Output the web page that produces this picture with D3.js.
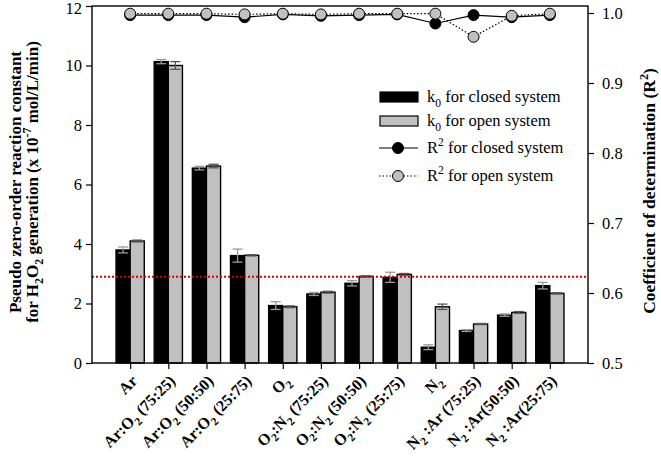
<!DOCTYPE html>
<html>
<head>
<meta charset="utf-8">
<script src="https://cdn.jsdelivr.net/npm/d3@7"></script>
<style>
  html, body { margin: 0; padding: 0; background: #fff; }
  svg { display: block; }
  text { font-family: "Liberation Serif", "Times New Roman", serif; fill: #000; }
</style>
</head>
<body>
<svg id="chart" width="661" height="458"></svg>
<script>
// categories use _x for subscript and ^x for superscript
const categories = [
  'Ar', 'Ar:O_2 (75:25)', 'Ar:O_2 (50:50)', 'Ar:O_2 (25:75)',
  'O_2', 'O_2:N_2 (75:25)', 'O_2:N_2 (50:50)', 'O_2:N_2 (25:75)',
  'N_2', 'N_2 :Ar (75:25)', 'N_2 :Ar(50:50)', 'N_2 :Ar(25:75)'
];
const k0Closed    = [3.80, 10.13, 6.55, 3.61, 1.93, 2.32, 2.68, 2.88, 0.53, 1.09, 1.61, 2.60];
const k0ClosedErr = [0.10, 0.07, 0.06, 0.22, 0.13, 0.05, 0.09, 0.17, 0.08, 0.03, 0.04, 0.11];
const k0Open      = [4.10, 10.00, 6.62, 3.62, 1.89, 2.38, 2.91, 2.98, 1.89, 1.31, 1.70, 2.34];
const k0OpenErr   = [0.03, 0.13, 0.06, 0.02, 0.03, 0.03, 0.02, 0.03, 0.09, 0.02, 0.03, 0.02];
const r2Closed    = [0.997, 0.997, 0.997, 0.994, 0.998, 0.996, 0.997, 0.998, 0.985, 0.997, 0.994, 0.997];
const r2Open      = [0.999, 0.999, 0.999, 0.998, 0.999, 0.998, 0.999, 0.999, 0.999, 0.966, 0.996, 0.999];
const leftTicks   = [0, 2, 4, 6, 8, 10, 12];
const rightTicks  = [0.5, 0.6, 0.7, 0.8, 0.9, 1.0];
const threshold   = 2.9;

(function () {
  'use strict';

  const svg = d3.select('#chart');
  const m = { left: 92, right: 588, top: 6, bottom: 363 };

  // rich text: _ sub, ^ sup, braces group
  function richText(sel, str, size) {
    const parts = str.split(/(_\{[^}]*\}|_.|\^\{[^}]*\}|\^.)/).filter(function (s) { return s.length; });
    let shift = 0;
    parts.forEach(function (p) {
      let mode = 0, t = p;
      if (p[0] === '_') { mode = 1; t = p.slice(1); }
      else if (p[0] === '^') { mode = -1; t = p.slice(1); }
      t = t.replace(/[{}]/g, '');
      const target = mode === 1 ? size * 0.3 : mode === -1 ? -size * 0.4 : 0;
      sel.append('tspan')
        .attr('dy', target - shift)
        .style('font-size', mode ? (size * 0.7) + 'px' : null)
        .text(t);
      shift = target;
    });
  }

  // ─── Scales ───────────────────────────────────────

  const x = d3.scalePoint().domain(d3.range(categories.length))
    .range([m.left, m.right]).padding(1);
  const y = d3.scaleLinear().domain([0, 12]).range([m.bottom, m.top]);
  const y2 = d3.scaleLinear().domain([0.5, 1.01]).range([m.bottom, m.top]);
  const bw = x.step() * 0.37;

  // ─── Bars ─────────────────────────────────────────

  function bars(vals, errs, dx, fill, errColor) {
    const g = svg.append('g');
    vals.forEach(function (v, i) {
      const x0 = x(i) + dx;
      g.append('rect')
        .attr('x', x0).attr('y', y(v))
        .attr('width', bw).attr('height', y(0) - y(v))
        .attr('fill', fill).attr('stroke', '#000').attr('stroke-width', 1.4);
      const cx = x0 + bw / 2;
      const e = g.append('g').attr('stroke', errColor).attr('stroke-width', 1.3);
      e.append('line').attr('x1', cx).attr('x2', cx).attr('y1', y(v + errs[i])).attr('y2', y(v - errs[i]));
      [v + errs[i], v - errs[i]].forEach(function (ev) {
        e.append('line').attr('x1', cx - 5).attr('x2', cx + 5).attr('y1', y(ev)).attr('y2', y(ev));
      });
    });
  }
  bars(k0Closed, k0ClosedErr, -bw, '#000', '#9a9a9a');
  bars(k0Open, k0OpenErr, 0, '#c0c0c0', '#555');

  // ─── Threshold line ───────────────────────────────

  svg.append('line')
    .attr('x1', m.left).attr('x2', m.right)
    .attr('y1', y(threshold)).attr('y2', y(threshold))
    .attr('stroke', '#d40000').attr('stroke-width', 2).attr('stroke-dasharray', '2,2');

  // ─── R2 lines ─────────────────────────────────────

  const line = d3.line().x(function (d, i) { return x(i); }).y(function (d) { return y2(d); });
  svg.append('path').datum(r2Closed).attr('d', line)
    .attr('fill', 'none').attr('stroke', '#000').attr('stroke-width', 1.2);
  svg.append('g').selectAll('circle').data(r2Closed).join('circle')
    .attr('cx', function (d, i) { return x(i); }).attr('cy', function (d) { return y2(d); })
    .attr('r', 5.5).attr('fill', '#000').attr('stroke', '#000');
  svg.append('path').datum(r2Open).attr('d', line)
    .attr('fill', 'none').attr('stroke', '#000').attr('stroke-width', 1.2).attr('stroke-dasharray', '1.5,2');
  svg.append('g').selectAll('circle').data(r2Open).join('circle')
    .attr('cx', function (d, i) { return x(i); }).attr('cy', function (d) { return y2(d); })
    .attr('r', 5.5).attr('fill', '#c0c0c0').attr('stroke', '#000');

  // ─── Axes ─────────────────────────────────────────

  function style(g) {
    g.select('.domain').remove();
    g.selectAll('.tick line').attr('stroke', '#000').attr('stroke-width', 1.2);
    g.selectAll('.tick text').style('font-size', '16.5px')
      .style('font-family', '"Liberation Serif", serif').attr('fill', '#000');
  }
  const ya = svg.append('g').attr('transform', 'translate(' + m.left + ',0)')
    .call(d3.axisLeft(y).tickValues(leftTicks).tickSize(6).tickPadding(4)).call(style);
  // keep the top label inside the frame
  ya.selectAll('.tick text').filter(function (d) { return d === 12; }).attr('dy', '0.45em');
  svg.append('g').attr('transform', 'translate(' + m.right + ',0)')
    .call(d3.axisRight(y2).tickValues(rightTicks).tickFormat(d3.format('.1f')).tickSize(6).tickPadding(8)).call(style);
  const xa = svg.append('g').attr('transform', 'translate(0,' + m.bottom + ')')
    .call(d3.axisBottom(x).tickSize(6).tickFormat(''));
  style(xa);

  svg.append('rect')
    .attr('x', m.left).attr('y', m.top)
    .attr('width', m.right - m.left).attr('height', m.bottom - m.top)
    .attr('fill', 'none').attr('stroke', '#000').attr('stroke-width', 1.4);

  // rotated category labels
  categories.forEach(function (c, i) {
    const t = svg.append('text')
      .attr('transform', 'translate(' + (x(i) + 8) + ',' + (m.bottom + 19) + ') rotate(-45)')
      .attr('text-anchor', 'end')
      .style('font-size', '16px').style('font-weight', 'bold');
    richText(t, c, 16);
  });

  // ─── Axis titles ──────────────────────────────────

  const lt = ['Pseudo zero-order reaction constant', 'for H_2O_2 generation (x 10^{-7} mol/L/min)'];
  lt.forEach(function (s, i) {
    const t = svg.append('text')
      .attr('transform', 'translate(' + (21 + i * 17) + ',182) rotate(-90)')
      .attr('text-anchor', 'middle')
      .style('font-size', '17px').style('font-weight', 'bold');
    richText(t, s, 17);
  });
  const rt = svg.append('text')
    .attr('transform', 'translate(655,191) rotate(-90)')
    .attr('text-anchor', 'middle')
    .style('font-size', '17.5px').style('font-weight', 'bold');
  richText(rt, 'Coefficient of determination (R^2)', 17.5);

  // ─── Legend ───────────────────────────────────────

  const lg = svg.append('g');
  const items = [
    { label: 'k_0 for closed system', type: 'bar', fill: '#000', y: 97 },
    { label: 'k_0 for open system', type: 'bar', fill: '#c0c0c0', y: 121 },
    { label: 'R^2 for closed system', type: 'line', fill: '#000', dash: null, y: 148 },
    { label: 'R^2 for open system', type: 'line', fill: '#c0c0c0', dash: '1.5,2', y: 176 }
  ];
  items.forEach(function (it) {
    if (it.type === 'bar') {
      lg.append('rect').attr('x', 380).attr('y', it.y - 5).attr('width', 38).attr('height', 10)
        .attr('fill', it.fill).attr('stroke', '#000').attr('stroke-width', 1.2);
    } else {
      lg.append('line').attr('x1', 379).attr('x2', 418).attr('y1', it.y).attr('y2', it.y)
        .attr('stroke', '#000').attr('stroke-width', 1.2).attr('stroke-dasharray', it.dash);
      lg.append('circle').attr('cx', 398).attr('cy', it.y).attr('r', 5.5)
        .attr('fill', it.fill).attr('stroke', '#000');
    }
    const t = lg.append('text').attr('x', 427).attr('y', it.y + 5).style('font-size', '16.5px');
    richText(t, it.label, 16.5);
  });
})();
</script>
</body>
</html>
